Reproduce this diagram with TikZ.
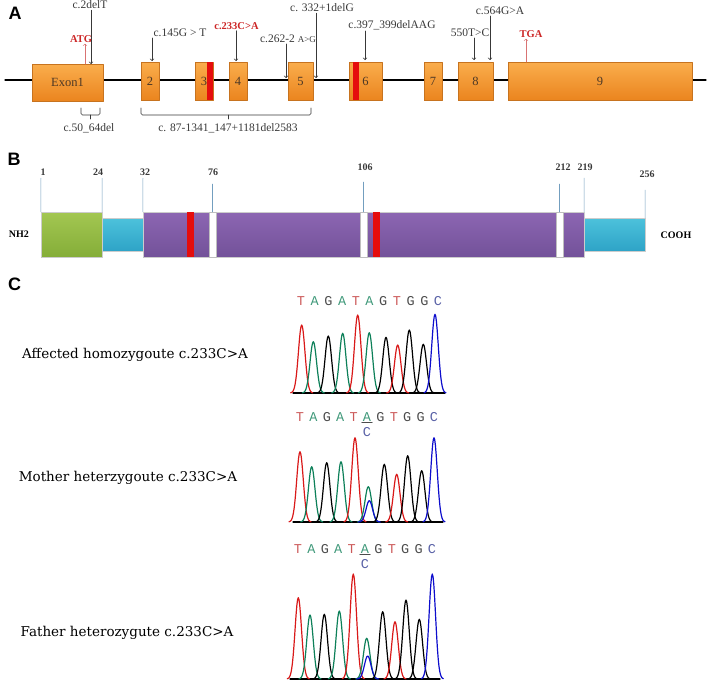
\documentclass[tikz,border=0pt]{standalone}
\usepackage{fontspec}
\setmainfont{Liberation Serif}
\setsansfont{Liberation Sans}
\setmonofont{Liberation Mono}
\newfontfamily\labserif{DejaVu Serif}
\usepackage{tikz}
\definecolor{ffqqqq}{rgb}{0.9,0.05,0.05}
\definecolor{exontop}{rgb}{0.98,0.68,0.30}
\definecolor{exonbot}{rgb}{0.92,0.52,0.12}
\definecolor{exonbrd}{rgb}{0.78,0.45,0.12}
\definecolor{exonlab}{rgb}{0.30,0.22,0.15}
\definecolor{sigtop}{rgb}{0.64,0.78,0.32}
\definecolor{sigbot}{rgb}{0.52,0.68,0.22}
\definecolor{cyatop}{rgb}{0.30,0.76,0.86}
\definecolor{cyabot}{rgb}{0.18,0.64,0.78}
\definecolor{purtop}{rgb}{0.55,0.40,0.70}
\definecolor{purbot}{rgb}{0.45,0.32,0.60}
\definecolor{tickblue}{rgb}{0.45,0.62,0.75}
\definecolor{txtgray}{rgb}{0.22,0.22,0.22}
\definecolor{atgred}{rgb}{0.80,0.15,0.15}
\definecolor{atgpink}{rgb}{0.85,0.45,0.45}
\definecolor{tred}{rgb}{0.80,0.35,0.35}
\definecolor{tgreen}{rgb}{0.25,0.60,0.48}
\definecolor{tgray}{rgb}{0.30,0.30,0.30}
\definecolor{tblue}{rgb}{0.35,0.38,0.65}
\definecolor{pkred}{rgb}{0.85,0.10,0.10}
\definecolor{pkgreen}{rgb}{0.05,0.50,0.35}
\definecolor{pkblue}{rgb}{0.05,0.05,0.80}

\begin{document}
\begin{tikzpicture}[line cap=round,line join=round,x=1pt,y=-1pt,
  panlab/.style={font=\sffamily\bfseries\fontsize{18}{18}\selectfont,inner sep=0pt},
  exon/.style={draw=exonbrd,top color=exontop,bottom color=exonbot,minimum height=38pt,inner sep=0pt,text=exonlab,font=\fontsize{12.5}{13}\selectfont},
  redbar/.style={fill=ffqqqq,inner sep=0pt},
  whitebar/.style={fill=white,draw=black!25,line width=0.3pt,inner sep=0pt,minimum width=7pt,minimum height=45pt},
  mut/.style={text=txtgray,inner sep=1pt,font=\fontsize{11.5}{13}\selectfont},
  mutarr/.style={->,draw=txtgray,line width=0.7pt},
  codon/.style={text=atgred,inner sep=1pt,font=\bfseries\fontsize{10.5}{12}\selectfont},
  codonarr/.style={->,draw=atgpink,line width=0.6pt},
  brk/.style={draw=txtgray,line width=0.6pt,rounded corners=1.5pt},
  dom/.style={draw=white!80!black,line width=0.3pt,inner sep=0pt},
  num/.style={inner sep=1pt,text=txtgray,font=\bfseries\fontsize{10}{11}\selectfont},
  tick/.style={draw=tickblue,line width=0.5pt},
  sample/.style={inner sep=0pt,font=\labserif\fontsize{13.5}{15}\selectfont},
  base/.style={inner sep=1pt,font=\ttfamily\fontsize{13.5}{14}\selectfont},
  trace/.style={line width=1.2pt}]
\useasboundingbox (0,0) rectangle (709,683);
%% panel A
\node[panlab] (pA) at (15,13) {A};
\coordinate (lstart) at (5,80);
\coordinate (lend) at (706,80);
\draw [line width=1.2pt] (lstart) -- (lend);
\node[exon,minimum width=71pt,minimum height=37pt] (e1) at (67.5,82.5) {Exon1};
\node[exon,minimum width=18pt] (e2) at (150,81) {2};
\node[exon,minimum width=18pt] (e3) at (204,81) {3};
\node[redbar,minimum width=6pt,minimum height=38pt] (m3) at (210,81) {};
\node[exon,minimum width=18pt] (e4) at (238,81) {4};
\node[exon,minimum width=25pt] (e5) at (300.5,81) {5};
\node[exon,minimum width=33pt] (e6) at (365.5,81) {6};
\node[redbar,minimum width=6pt,minimum height=38pt] (m6) at (356,81) {};
\node[exon,minimum width=18pt] (e7) at (433,81) {7};
\node[exon,minimum width=35pt] (e8) at (475.5,81) {8};
\node[exon,minimum width=184pt] (e9) at (600,81) {9};
% mutations
\coordinate (t2delT) at (91,64);
\coordinate (t145) at (152,61);
\coordinate (t233) at (236,61);
\coordinate (t262) at (286,78);
\coordinate (t332) at (316,78);
\coordinate (t397) at (365,60);
\coordinate (t550) at (474,60);
\coordinate (t564) at (490,60);
\node[mut] (l2delT) at (90,5) {c.2delT};
\node[mut] (l145) at (180,33) {c.145G > T};
\node[codon] (l233) at (236.5,26) {c.233C>A};
\node[mut] (l262) at (288,39) {c.262-2 {\fontsize{9}{9}\selectfont A>G}};
\node[mut] (l332) at (322,8) {c. 332+1delG};
\node[mut] (l397) at (392,25) {c.397\_399delAAG};
\node[mut] (l550) at (470,33) {550T>C};
\node[mut] (l564) at (500,11) {c.564G>A};
\draw[mutarr] (l2delT.south -| t2delT) -- (t2delT);
\draw[mutarr] (l145.south -| t145) -- (t145);
\draw[mutarr] (l233.south -| t233) -- (t233);
\draw[mutarr] (l262.south -| t262) -- (t262);
\draw[mutarr] (l332.south -| t332) -- (t332);
\draw[mutarr] (l397.south -| t397) -- (t397);
\draw[mutarr] (l550.south -| t550) -- (t550);
\draw[mutarr] (l564.south -| t564) -- (t564);
\coordinate (tatg) at (85,64);
\coordinate (ttga) at (526,62);
\node[codon] (latg) at (81,39) {ATG};
\node[codon] (ltga) at (531,34) {TGA};
\draw[codonarr] (tatg) -- (latg.south -| tatg);
\draw[codonarr] (ttga) -- (ltga.south -| ttga);
% deletions
\draw[brk] (81,108) -- (81,115) -- (100,115) -- (100,108);
\draw[brk] (90.5,115) -- (90.5,119);
\draw[brk] (141,108) -- (141,115) -- (311,115) -- (311,108);
\draw[brk] (228,115) -- (228,119);
\node[mut] (ldel1) at (89,128) {c.50\_64del};
\node[mut] (ldel2) at (228,128) {c. 87-1341\_147+1181del2583};
%% panel B
\node[panlab] (pB) at (14,159) {B};
\node[dom,top color=sigtop,bottom color=sigbot,minimum width=61pt,minimum height=45pt] (sig) at (71.5,234.5) {};
\node[dom,top color=cyatop,bottom color=cyabot,minimum width=41pt,minimum height=33pt] (pro) at (122.5,234.5) {};
\node[dom,top color=purtop,bottom color=purbot,minimum width=441pt,minimum height=45pt] (core) at (363.5,234.5) {};
\node[dom,top color=cyatop,bottom color=cyabot,minimum width=61pt,minimum height=33pt] (ctail) at (614.5,234.5) {};
\node[redbar,minimum width=7pt,minimum height=45pt] (r1) at (190.5,234.5) {};
\node[whitebar] (w76) at (212.5,234.5) {};
\node[whitebar] (w106) at (363.5,234.5) {};
\node[redbar,minimum width=7pt,minimum height=45pt] (r2) at (376.5,234.5) {};
\node[whitebar] (w212) at (559.5,234.5) {};
\node[num] (n1) at (43,172) {1};
\node[num] (n24) at (98,172) {24};
\node[num] (n32) at (145,172) {32};
\node[num] (n76) at (213,172) {76};
\node[num] (n106) at (365,167) {106};
\node[num] (n212) at (563,167) {212};
\node[num] (n219) at (585,167) {219};
\node[num] (n256) at (647,174) {256};
\coordinate (k1) at (41,178);
\coordinate (k24) at (102,178);
\coordinate (k32) at (143,178);
\coordinate (k76) at (212.5,184);
\coordinate (k106) at (363.5,182);
\coordinate (k212) at (559.5,184);
\coordinate (k219) at (584,178);
\coordinate (k256) at (645,190);
\draw[tick] (k1) -- (sig.north west);
\draw[tick] (k24) -- (sig.north east);
\draw[tick] (k32) -- (core.north west);
\draw[tick] (k76) -- (w76.north);
\draw[tick] (k106) -- (w106.north);
\draw[tick] (k212) -- (w212.north);
\draw[tick] (k219) -- (core.north east);
\draw[tick] (k256) -- (ctail.north east);
\node[num,text=black,font=\bfseries\fontsize{10}{10}\selectfont] (nh2) at (19,234) {NH2};
\node[num,text=black,font=\bfseries\fontsize{10}{10}\selectfont] (cooh) at (676,235) {COOH};
%% panel C
\node[panlab] (pC) at (14.5,284.5) {C};
\node[sample] (aff) at (135,355) {Affected homozygoute c.233C>A};
\node[sample] (mot) at (128,478) {Mother heterzygoute c.233C>A};
\node[sample] (fat) at (127,633) {Father heterozygute c.233C>A};
% sequence reads
\foreach \b/\c [count=\i] in {T/tred,A/tgreen,G/tgray,A/tgreen,T/tred,A/tgreen,G/tgray,T/tred,G/tgray,G/tgray,C/tblue}
  \node[base,text=\c] (sa\i) at ({301+13.7*(\i-1)},301) {\b};
\foreach \b/\c [count=\i] in {T/tred,A/tgreen,G/tgray,A/tgreen,T/tred,A/tgreen,G/tgray,T/tred,G/tgray,G/tgray,C/tblue}
  \node[base,text=\c] (sb\i) at ({300+13.4*(\i-1)},417) {\b};
\foreach \b/\c [count=\i] in {T/tred,A/tgreen,G/tgray,A/tgreen,T/tred,A/tgreen,G/tgray,T/tred,G/tgray,G/tgray,C/tblue}
  \node[base,text=\c] (sc\i) at ({298+13.4*(\i-1)},549) {\b};
\draw[tgray,line width=0.6pt] (sb6.south west) -- (sb6.south east);
\node[base,text=tblue] (hb) at (sb6 |- 0,432) {C};
\draw[tgray,line width=0.6pt] (sc6.south west) -- (sc6.south east);
\node[base,text=tblue] (hc) at (sc6 |- 0,564) {C};
% traces
\draw[line width=1.2pt] (293,393) -- (445,393);
\foreach \px/\py/\pc [evaluate=\px as \lo using \px-11, evaluate=\px as \hi using \px+11] in
  {301.7/325/pkred,313.3/341.7/pkgreen,328.3/336/black,342.7/333.3/pkgreen,357.7/315/pkred,369.3/332.7/pkgreen,
   386/337.3/black,397.7/345/pkred,409.3/330/black,423.3/344.3/black,435/314.3/pkblue}
  \draw[trace,\pc] plot[domain=\lo:\hi,samples=31,variable=\t] (\t,{393-(393-\py)*exp(0-((\t-\px)/4.6)^2)});
\draw[line width=1.2pt] (293,522) -- (443,522);
\foreach \px/\py/\pc [evaluate=\px as \lo using \px-11, evaluate=\px as \hi using \px+11] in
  {300/451.7/pkred,311.7/466.7/pkgreen,326.7/462.7/black,341/461.7/pkgreen,355/437.7/pkred,368.3/486.7/pkgreen,
   369.3/500.7/pkblue,384.3/464.3/black,396.7/474.3/pkred,407.7/455.7/black,421.7/470.7/black,434/437.7/pkblue}
  \draw[trace,\pc] plot[domain=\lo:\hi,samples=31,variable=\t] (\t,{522-(522-\py)*exp(0-((\t-\px)/4.6)^2)});
\draw[line width=1.2pt] (290,679) -- (440,679);
\foreach \px/\py/\pc [evaluate=\px as \lo using \px-11, evaluate=\px as \hi using \px+11] in
  {298.3/597.7/pkred,310/615/pkgreen,324.3/614.3/black,339.3/611/pkgreen,353.3/574/pkred,366.7/638.3/pkgreen,
   367.7/656/pkblue,382.7/611.7/black,395/621.7/pkred,406/600/black,419.3/619.3/black,432.3/574/pkblue}
  \draw[trace,\pc] plot[domain=\lo:\hi,samples=31,variable=\t] (\t,{679-(679-\py)*exp(0-((\t-\px)/4.6)^2)});
\end{tikzpicture}
\end{document}
